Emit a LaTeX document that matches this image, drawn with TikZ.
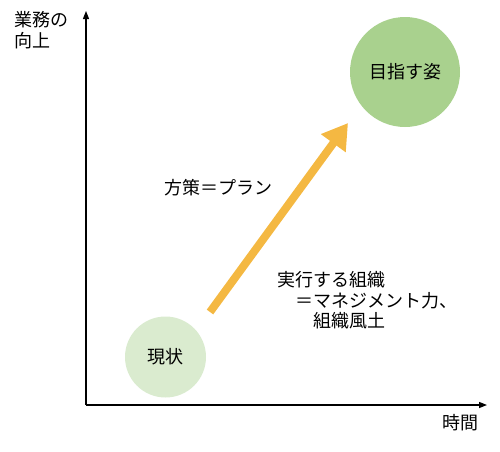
\documentclass[tikz,border=0pt]{standalone}
\usepackage{fontspec}
\setmainfont{Noto Sans CJK JP}
\usetikzlibrary{arrows.meta}
\definecolor{GoalGreen}{RGB}{169,209,142}
\definecolor{NowGreen}{RGB}{218,235,207}
\definecolor{PlanOrange}{RGB}{244,184,66}

\begin{document}
\begin{tikzpicture}[x=1pt,y=-1pt]
    \tikzset{AxisStyle/.style = {%
        line width=1.3pt,
        -{Triangle[length=8pt,width=6pt]}},
      CircleStyle/.style = {%
        shape=circle,
        inner sep=0pt,
        font=\fontsize{18}{20.5}\selectfont},
      LabelStyle/.style = {%
        font=\fontsize{18}{20.5}\selectfont,
        align=left,
        inner sep=0pt},
      PlanArrow/.style = {%
        line width=8pt,
        draw=PlanOrange,
        -{Triangle[length=25pt,width=29pt]}}}
    \useasboundingbox (0,0) rectangle (500,451);
    \coordinate (origin) at (86,405);
    \coordinate (ytop) at (86,11);
    \coordinate (xend) at (487,405);
    \draw[AxisStyle] (origin) -- (ytop);
    \draw[AxisStyle] (origin) -- (xend);
    \node[LabelStyle, anchor=west] (ylabel) at (14,30) {業務の\\向上};
    \node[LabelStyle] (xlabel) at (460,423) {時間};
    \node[CircleStyle, fill=GoalGreen, minimum size=110pt] (goal) at (405,72) {目指す姿};
    \node[CircleStyle, fill=NowGreen, minimum size=81pt] (now) at (165.5,357) {現状};
    \coordinate (planstart) at (210,312);
    \coordinate (plantip) at (348,123);
    \draw[PlanArrow] (planstart) -- (plantip);
    \node[LabelStyle, anchor=west] (plan) at (164,188) {方策＝プラン};
    \node[LabelStyle, anchor=west] (org) at (277,300.5) {実行する組織\\\hspace*{1em}＝マネジメント力、\\\hspace*{2em}組織風土};
\end{tikzpicture}
\end{document}
